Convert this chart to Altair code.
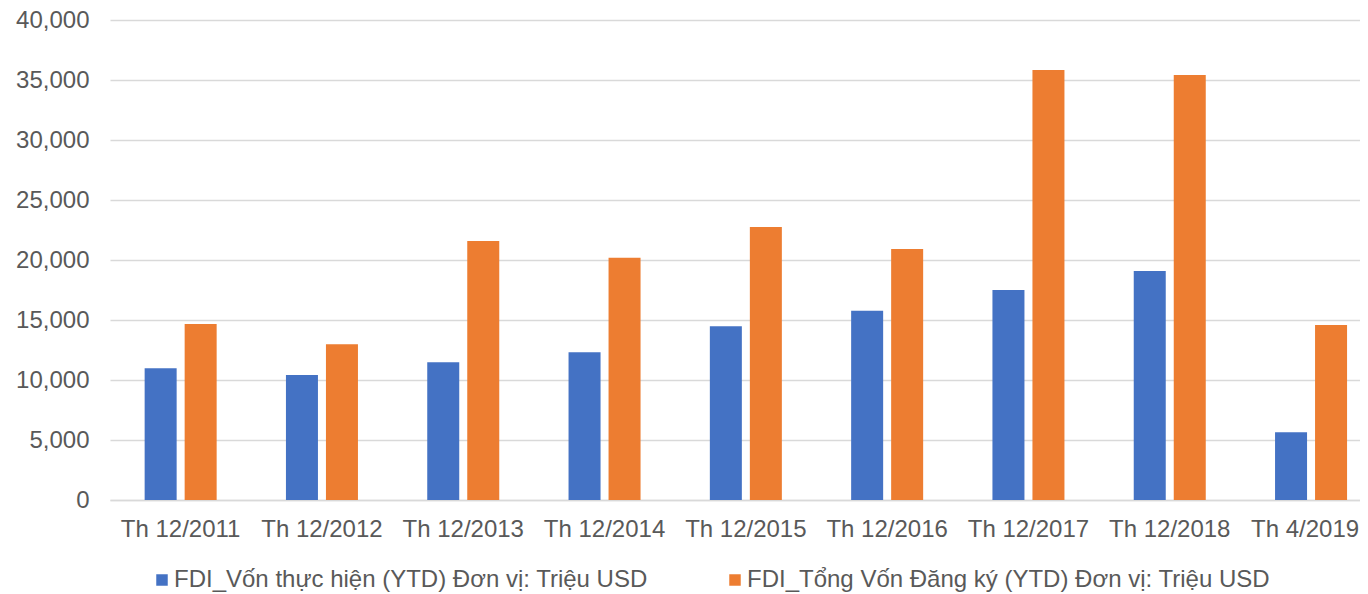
import altair as alt
import pandas as pd

categories = ["Th 12/2011", "Th 12/2012", "Th 12/2013", "Th 12/2014", "Th 12/2015",
              "Th 12/2016", "Th 12/2017", "Th 12/2018", "Th 4/2019"]
series_names = ["FDI_Vốn thực hiện (YTD) Đơn vị: Triệu USD",
                "FDI_Tổng Vốn Đăng ký (YTD) Đơn vị: Triệu USD"]
von_thuc_hien = [10970, 10420, 11470, 12310, 14470, 15780, 17500, 19080, 5640]
von_dang_ky = [14670, 12970, 21580, 20190, 22750, 20920, 35830, 35420, 14580]
colors = ["#4472C4", "#ED7D31"]
y_ticks = [0, 5000, 10000, 15000, 20000, 25000, 30000, 35000, 40000]

rows = []
for i, c in enumerate(categories):
    rows.append({"cat": c, "series": series_names[0], "value": von_thuc_hien[i]})
    rows.append({"cat": c, "series": series_names[1], "value": von_dang_ky[i]})
df = pd.DataFrame(rows)

FONT = "Liberation Sans"
GREY = "#595959"
STEP = 141.3
last_cat = categories[-1]

chart = alt.Chart(df).mark_bar().encode(
    x=alt.X("cat:N", sort=categories,
            scale=alt.Scale(paddingInner=0, paddingOuter=0, align=0, round=False,
                            range=[0, STEP * len(categories)]),
            axis=alt.Axis(title=None, labelAngle=0, labelFont=FONT, labelFontSize=24,
                          labelColor=GREY, ticks=False, tickSize=0, labelPadding=17,
                          labelOffset={"condition": {"test": f"datum.value === '{last_cat}'",
                                                     "value": -6},
                                       "value": 0},
                          domainColor="#D9D9D9", domainWidth=1.5, grid=False,
                          labelOverlap=False)),
    xOffset=alt.XOffset("series:N", sort=series_names,
                        scale=alt.Scale(paddingInner=0.2, paddingOuter=0.866, round=False)),
    y=alt.Y("value:Q", scale=alt.Scale(domain=[0, 40000], nice=False),
            axis=alt.Axis(title=None, values=y_ticks, format=",.0f", labelFont=FONT,
                          labelFontSize=24, labelColor=GREY, ticks=False, tickSize=0,
                          labelPadding=21, domain=False, gridColor="#D9D9D9",
                          gridWidth=1.5)),
    color=alt.Color("series:N", sort=series_names,
                    scale=alt.Scale(domain=series_names, range=colors),
                    legend=alt.Legend(title=None, orient="none", direction="horizontal",
                                      legendX=40, legendY=548, labelFont=FONT,
                                      labelFontSize=24, labelColor=GREY, labelLimit=0,
                                      symbolType="square", symbolSize=132,
                                      symbolStrokeWidth=0, labelOffset=0,
                                      columnPadding=75, padding=0)),
).properties(
    width=1250,
    height=480,
    autosize=alt.AutoSizeParams(type="none"),
    padding={"left": 102, "top": 12, "right": 0, "bottom": 94},
).configure_view(stroke=None)

chart.save("out.html", embed_options={"renderer": "svg", "actions": False})
